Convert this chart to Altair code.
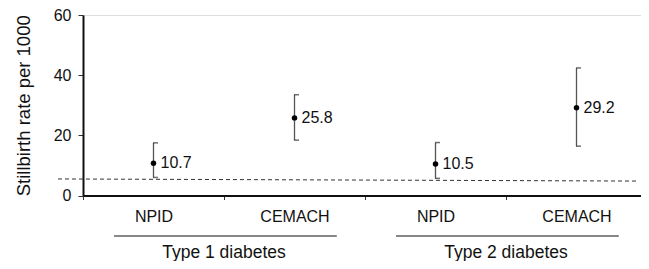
import altair as alt
import pandas as pd

# data
categories = ["T1-NPID", "T1-CEMACH", "T2-NPID", "T2-CEMACH"]
rates = [10.7, 25.8, 10.5, 29.2]
lower = [6.0, 18.4, 5.7, 16.4]
upper = [17.5, 33.5, 17.6, 42.4]
rate_labels = ["10.7", "25.8", "10.5", "29.2"]
groups = ["Type 1 diabetes", "Type 2 diabetes"]
group_center = [1, 3]
group_start = [0.22, 2.22]
group_end = [1.8, 3.8]
ref_start = [5.5]
ref_end = [4.8]

FONT = "Liberation Sans"

df = pd.DataFrame({"cat": categories, "rate": rates, "lo": lower, "hi": upper, "lab": rate_labels})
gdf = pd.DataFrame({"g": groups, "c": group_center, "s": group_start, "e": group_end})
rdf = pd.DataFrame({"a": ref_start, "b": ref_end})

xenc = alt.X("cat:N", sort=categories, title=None,
             scale=alt.Scale(paddingInner=0, paddingOuter=0),
             axis=alt.Axis(labelExpr="split(datum.label, '-')[1]", labelAngle=0,
                           labelFontSize=16, labelFont=FONT, labelColor="#111",
                           labelPadding=9, tickBand="extent", tickSize=4,
                           tickColor="#333", domainColor="#111", domainWidth=2))
yscale = alt.Scale(domain=[0, 60], nice=False)
yaxis = alt.Axis(values=[0, 20, 40, 60], grid=False, labelFontSize=16, labelFont=FONT,
                 labelColor="#111", tickSize=5, tickColor="#333", labelPadding=7,
                 domainColor="#111", domainWidth=2,
                 title="Stillbirth rate per 1000", titleFontSize=18.5, titleFont=FONT,
                 titleFontWeight="normal", titleColor="#111", titlePadding=20)

base = alt.Chart(df)

bars = base.mark_rule(color="#555", strokeWidth=1.3).encode(
    x=xenc, y=alt.Y("lo:Q", scale=yscale, axis=yaxis), y2="hi:Q")
caps_hi = base.mark_tick(color="#333", size=5, thickness=1.5, orient="horizontal", xOffset=2).encode(
    x=alt.X("cat:N", sort=categories), y=alt.Y("hi:Q"))
caps_lo = base.mark_tick(color="#333", size=5, thickness=1.5, orient="horizontal", xOffset=2).encode(
    x=alt.X("cat:N", sort=categories), y=alt.Y("lo:Q"))
pts = base.mark_circle(color="#000", size=30, opacity=1).encode(
    x=alt.X("cat:N", sort=categories), y=alt.Y("rate:Q"))
labels = base.mark_text(align="left", baseline="middle", dx=7, fontSize=16, font=FONT, color="#111").encode(
    x=alt.X("cat:N", sort=categories), y=alt.Y("rate:Q"), text="lab:N")

ref = alt.Chart(rdf).mark_rule(color="#333", strokeDash=[4, 3], strokeWidth=1).encode(
    x=alt.value(-25), x2=alt.value(554), y=alt.Y("a:Q"), y2="b:Q")

main = alt.layer(ref, bars, caps_hi, caps_lo, pts, labels)

gx = alt.Scale(domain=[0, 4], nice=False, zero=False)
glines = alt.Chart(gdf).mark_rule(color="#111", strokeWidth=1).encode(
    x=alt.X("s:Q", scale=gx, axis=None), x2="e:Q", y=alt.value(221))
gtext = alt.Chart(gdf).mark_text(fontSize=17.5, font=FONT, color="#111", baseline="alphabetic").encode(
    x=alt.X("c:Q", scale=gx, axis=None), y=alt.value(242.5), text="g:N")

chart = alt.layer(main, glines, gtext).resolve_scale(x="independent").properties(
    width=564, height=180.5,
    autosize=alt.AutoSizeParams(type="none"),
    padding={"left": 75, "top": 7, "right": -6, "bottom": 65.5},
).configure_view(stroke=None).configure(background="white")

chart.save("out.html", embed_options={"renderer": "svg", "actions": False})
